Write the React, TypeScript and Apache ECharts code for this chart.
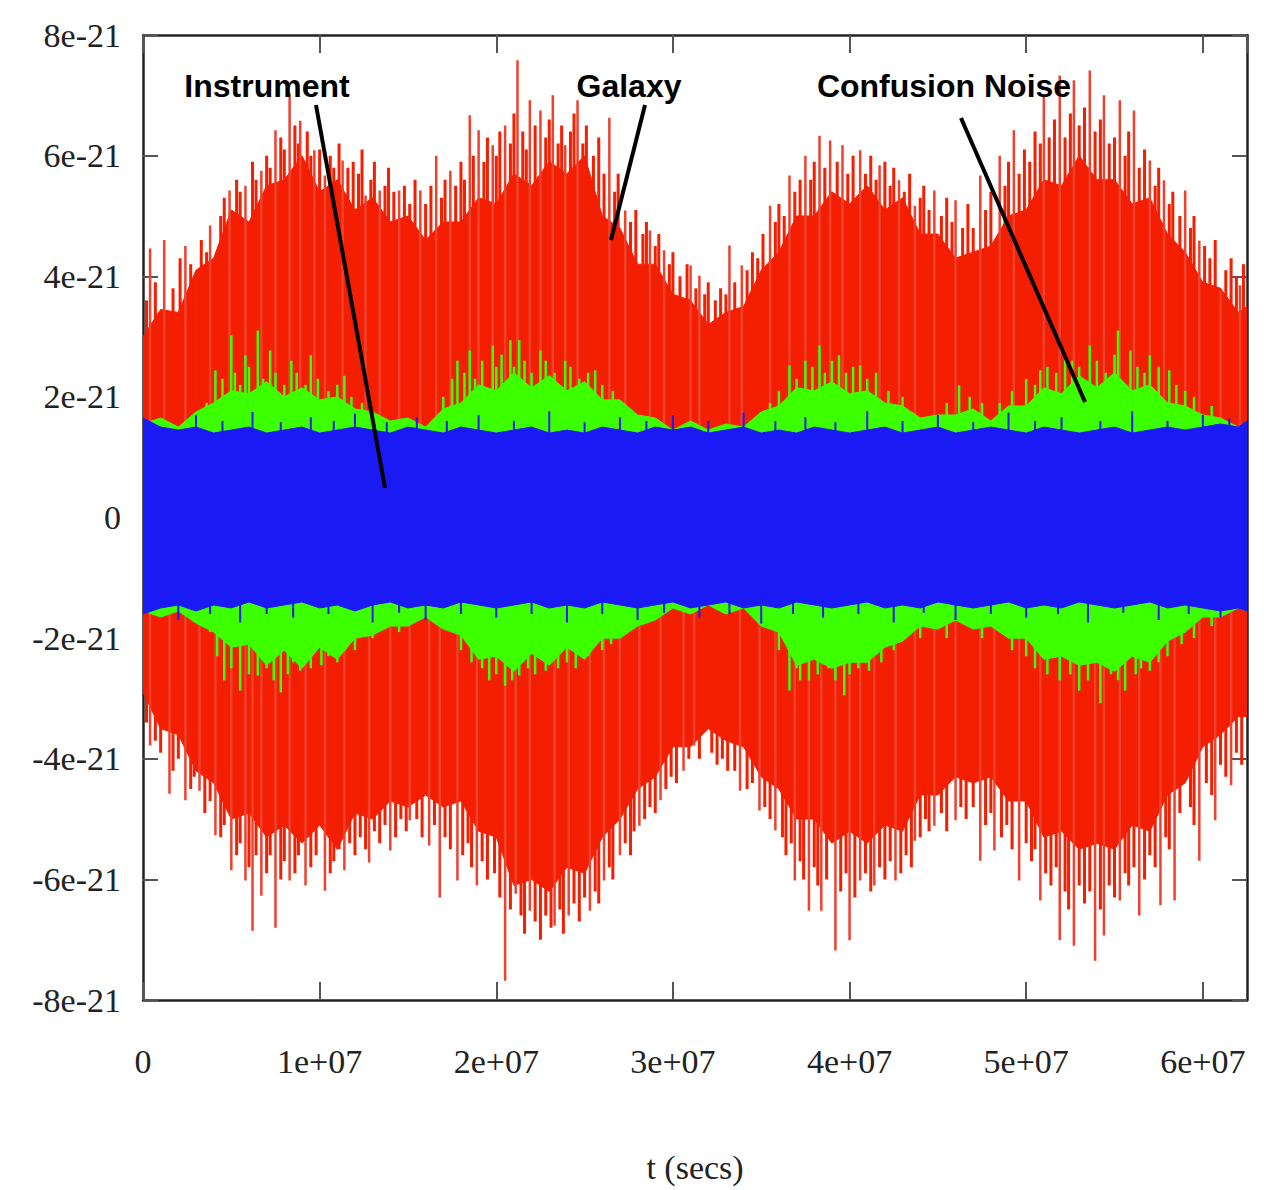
import React, { useEffect, useRef } from "react";
import * as echarts from "echarts";

// time grid: one sample every 1e6 s, last sample at the right edge (6.25e7 s)
const tGrid: number[] = Array.from({ length: 63 }, (_, i) => i * 1e6).concat([6.25e7]);

// amplitudes in units of 1e-21
const galaxyTop = [3.0, 3.45, 3.4, 4.1, 4.3, 5.1, 4.9, 5.5, 5.6, 6.0, 5.4, 5.6, 5.1, 5.3, 4.9, 5.0, 4.6, 4.9, 4.9, 5.3, 5.2, 5.7, 5.5, 5.9, 5.7, 6.0, 5.0, 4.8, 4.2, 4.2, 3.7, 3.6, 3.2, 3.4, 3.5, 4.1, 4.4, 5.0, 5.0, 5.4, 5.2, 5.5, 5.1, 5.3, 4.7, 4.7, 4.3, 4.4, 4.5, 5.0, 5.1, 5.6, 5.5, 6.0, 5.6, 5.6, 5.2, 5.3, 4.7, 4.4, 3.9, 3.8, 3.4, 3.5];
const galaxyBottom = [-2.9, -3.5, -3.6, -4.2, -4.4, -5.0, -4.9, -5.3, -5.1, -5.4, -5.1, -5.5, -4.9, -5.0, -4.7, -4.8, -4.6, -4.8, -4.7, -5.2, -5.3, -6.1, -6.0, -6.2, -5.8, -5.9, -5.3, -5.0, -4.5, -4.3, -3.8, -3.8, -3.5, -3.7, -3.8, -4.3, -4.5, -5.0, -5.0, -5.4, -5.2, -5.4, -5.1, -5.2, -4.6, -4.6, -4.3, -4.4, -4.3, -4.7, -4.7, -5.3, -5.2, -5.5, -5.4, -5.5, -5.1, -5.2, -4.6, -4.4, -3.8, -3.6, -3.3, -3.3];
// spikes: [t in units of 1e7 s, amplitude]
const galaxySpikesMajor = [
  [0.04, 4.46], [0.12, 4.6], [0.24, 4.5], [0.38, 4.84], [0.49, 5.42], [0.58, 5.5], [0.67, 5.75], [0.75, 6.42], [0.83, 7.03], [0.89, 6.58], [0.97, 6.09], [1.03, 5.67], [1.13, 5.92], [1.26, 5.34], [1.34, 5.42], [1.45, 5.42], [1.57, 5.42], [1.66, 6.0], [1.74, 5.75], [1.85, 6.67], [1.9, 6.42], [1.98, 6.17], [2.05, 6.5], [2.12, 7.58], [2.19, 6.92], [2.25, 6.75], [2.32, 7.0], [2.39, 6.17], [2.46, 6.92], [2.64, 6.63], [2.73, 5.09], [2.87, 4.76], [2.95, 4.43], [3.1, 4.18], [3.15, 4.01], [3.32, 4.51], [3.39, 4.18], [3.55, 5.17], [3.66, 5.67], [3.75, 6.0], [3.83, 6.33], [3.89, 6.25], [3.96, 6.17], [4.06, 6.09], [4.17, 5.84], [4.28, 5.59], [4.37, 5.17], [4.48, 5.42], [4.6, 5.26], [4.74, 5.67], [4.85, 6.0], [4.93, 6.42], [5.1, 7.0], [5.19, 7.33], [5.27, 7.25], [5.36, 7.41], [5.44, 7.0], [5.53, 6.92], [5.61, 6.75], [5.7, 5.92], [5.78, 5.59], [5.9, 5.42], [5.98, 4.59], [6.1, 3.76], [6.21, 3.85],
  [0.04, -3.78], [0.15, -4.58], [0.24, -4.69], [0.32, -4.53], [0.41, -5.27], [0.5, -5.85], [0.58, -6.02], [0.62, -6.85], [0.67, -6.27], [0.75, -6.8], [0.83, -6.02], [0.92, -6.1], [1.03, -6.19], [1.14, -5.85], [1.28, -5.72], [1.4, -5.52], [1.51, -5.02], [1.62, -5.44], [1.68, -6.3], [1.78, -6.02], [1.89, -6.1], [2.05, -7.68], [2.11, -6.24], [2.19, -6.52], [2.33, -6.77], [2.41, -6.6], [2.53, -6.52], [2.61, -6.02], [2.7, -5.6], [2.81, -5.11], [2.93, -4.69], [3.06, -4.2], [3.12, -3.78], [3.38, -4.53], [3.49, -4.86], [3.58, -5.19], [3.69, -6.02], [3.77, -6.52], [3.84, -6.52], [3.92, -7.18], [4.0, -7.01], [4.06, -6.02], [4.14, -6.1], [4.26, -6.02], [4.37, -5.36], [4.48, -5.11], [4.6, -5.02], [4.74, -5.69], [4.82, -5.52], [4.96, -6.02], [5.08, -6.35], [5.19, -7.01], [5.27, -7.1], [5.39, -7.35], [5.44, -6.93], [5.53, -6.35], [5.64, -6.6], [5.76, -6.43], [5.84, -6.35], [5.98, -5.69], [6.07, -5.02], [6.16, -4.44],
];
const galaxySpikesMinor = [
  [0.02, 3.6], [0.07, 3.9], [0.17, 3.8], [0.21, 4.3], [0.27, 4.2], [0.33, 4.6], [0.36, 4.4], [0.44, 5.0], [0.46, 5.3], [0.53, 5.6], [0.55, 5.4], [0.62, 5.9], [0.64, 5.6], [0.7, 6.0], [0.72, 5.8], [0.78, 6.3], [0.8, 6.1], [0.86, 6.5], [0.88, 6.2], [0.93, 6.4], [0.95, 6.0], [1.0, 6.1], [1.06, 6.0], [1.08, 5.8], [1.11, 6.2], [1.16, 5.8], [1.19, 5.9], [1.22, 5.7], [1.24, 6.1], [1.29, 5.6], [1.31, 5.9], [1.37, 5.5], [1.39, 5.8], [1.42, 5.4], [1.48, 5.5], [1.51, 5.2], [1.54, 5.6], [1.6, 5.2], [1.63, 5.5], [1.69, 5.3], [1.71, 5.6], [1.77, 5.5], [1.8, 5.9], [1.82, 5.6], [1.87, 6.0], [1.93, 5.9], [1.95, 6.3], [2.0, 6.0], [2.02, 6.4], [2.08, 6.2], [2.1, 6.7], [2.15, 6.4], [2.17, 6.1], [2.22, 6.5], [2.28, 6.3], [2.3, 6.6], [2.35, 6.2], [2.37, 6.5], [2.42, 6.4], [2.44, 6.7], [2.49, 6.2], [2.51, 6.5], [2.55, 6.0], [2.58, 6.3], [2.61, 5.7], [2.67, 5.4], [2.69, 5.7], [2.76, 4.9], [2.79, 5.1], [2.83, 4.7], [2.85, 4.9], [2.9, 4.5], [2.92, 4.7], [2.98, 4.2], [3.0, 4.4], [3.04, 4.0], [3.08, 4.2], [3.13, 3.8], [3.18, 3.7], [3.2, 3.9], [3.24, 3.6], [3.27, 3.8], [3.3, 3.7], [3.35, 3.9], [3.42, 4.1], [3.45, 4.4], [3.48, 4.3], [3.51, 4.7], [3.58, 4.9], [3.6, 5.2], [3.63, 5.0], [3.69, 5.4], [3.72, 5.6], [3.78, 5.6], [3.8, 5.9], [3.86, 5.8], [3.93, 5.9], [3.99, 5.7], [4.02, 6.0], [4.09, 5.7], [4.12, 6.0], [4.15, 5.6], [4.2, 5.9], [4.23, 5.5], [4.25, 5.8], [4.31, 5.4], [4.34, 5.7], [4.4, 5.3], [4.42, 5.5], [4.45, 5.1], [4.52, 5.0], [4.55, 5.3], [4.58, 4.9], [4.64, 4.8], [4.67, 5.2], [4.7, 4.8], [4.77, 5.1], [4.8, 5.4], [4.88, 5.5], [4.9, 5.9], [4.96, 5.7], [4.99, 6.1], [5.02, 5.9], [5.05, 6.4], [5.08, 6.2], [5.13, 6.3], [5.16, 6.6], [5.22, 6.3], [5.25, 6.7], [5.3, 6.5], [5.33, 6.8], [5.39, 6.4], [5.42, 6.6], [5.47, 6.2], [5.5, 6.3], [5.56, 6.0], [5.58, 6.4], [5.64, 5.8], [5.67, 6.1], [5.73, 5.5], [5.75, 5.8], [5.81, 5.2], [5.83, 5.4], [5.87, 5.0], [5.93, 4.8], [5.95, 5.0], [6.01, 4.5], [6.04, 4.3], [6.07, 4.6], [6.13, 4.1], [6.16, 4.3], [6.19, 4.0], [6.23, 4.2],
  [0.02, -3.4], [0.07, -3.7], [0.1, -3.9], [0.17, -4.2], [0.2, -4.0], [0.27, -4.5], [0.29, -4.3], [0.35, -4.9], [0.38, -4.7], [0.44, -5.3], [0.46, -5.1], [0.53, -5.6], [0.55, -5.4], [0.6, -5.8], [0.64, -5.6], [0.7, -5.9], [0.72, -5.6], [0.78, -6.0], [0.8, -5.7], [0.86, -5.9], [0.88, -5.6], [0.95, -5.8], [0.98, -5.6], [1.06, -5.9], [1.08, -5.7], [1.11, -5.5], [1.17, -5.4], [1.2, -5.6], [1.23, -5.3], [1.26, -5.5], [1.31, -5.2], [1.34, -5.4], [1.37, -5.1], [1.43, -5.3], [1.46, -5.0], [1.49, -5.2], [1.55, -5.0], [1.58, -5.3], [1.65, -5.1], [1.71, -5.3], [1.74, -5.5], [1.81, -5.6], [1.84, -5.4], [1.86, -5.8], [1.92, -5.7], [1.95, -6.0], [1.99, -5.9], [2.02, -6.3], [2.08, -6.5], [2.14, -6.6], [2.16, -6.9], [2.22, -6.7], [2.25, -7.0], [2.28, -6.6], [2.31, -6.8], [2.36, -6.5], [2.38, -6.9], [2.44, -6.4], [2.47, -6.7], [2.5, -6.3], [2.56, -6.2], [2.58, -6.4], [2.64, -5.8], [2.66, -6.0], [2.73, -5.4], [2.76, -5.6], [2.78, -5.2], [2.84, -5.0], [2.87, -4.8], [2.9, -4.9], [2.96, -4.5], [2.99, -4.3], [3.02, -4.4], [3.09, -4.0], [3.15, -4.0], [3.22, -3.9], [3.25, -4.1], [3.28, -4.0], [3.31, -4.2], [3.35, -4.2], [3.42, -4.5], [3.45, -4.4], [3.52, -4.8], [3.55, -5.0], [3.62, -5.3], [3.64, -5.6], [3.67, -5.4], [3.72, -5.7], [3.74, -6.0], [3.8, -5.8], [3.82, -6.1], [3.87, -6.0], [3.95, -6.2], [3.98, -5.9], [4.03, -6.3], [4.09, -5.9], [4.12, -6.2], [4.17, -5.8], [4.2, -6.0], [4.23, -5.7], [4.29, -5.9], [4.32, -5.6], [4.35, -5.8], [4.4, -5.3], [4.43, -5.0], [4.45, -5.2], [4.52, -4.9], [4.55, -5.2], [4.63, -4.8], [4.66, -5.0], [4.7, -4.8], [4.77, -5.1], [4.8, -4.9], [4.86, -5.3], [4.89, -5.1], [4.92, -5.5], [5.0, -5.4], [5.03, -5.7], [5.05, -5.5], [5.11, -5.9], [5.14, -6.1], [5.17, -5.8], [5.22, -6.2], [5.24, -6.5], [5.3, -6.1], [5.33, -6.4], [5.36, -6.2], [5.42, -6.5], [5.47, -6.1], [5.5, -6.3], [5.56, -5.9], [5.58, -6.1], [5.61, -5.8], [5.67, -6.0], [5.7, -5.6], [5.73, -5.8], [5.79, -5.3], [5.81, -5.5], [5.87, -4.9], [5.93, -4.8], [5.95, -5.1], [6.02, -4.4], [6.05, -4.6], [6.1, -4.1], [6.13, -4.3], [6.19, -3.9], [6.22, -4.1],
];

const confusionTop = [1.55, 1.65, 1.5, 1.75, 1.9, 2.1, 2.05, 2.25, 2.0, 2.15, 1.95, 2.0, 1.8, 1.75, 1.6, 1.65, 1.5, 1.8, 1.9, 2.2, 2.1, 2.4, 2.15, 2.35, 2.1, 2.25, 1.95, 1.95, 1.7, 1.65, 1.45, 1.6, 1.45, 1.55, 1.5, 1.75, 1.85, 2.15, 2.1, 2.25, 2.05, 2.1, 1.9, 1.85, 1.65, 1.7, 1.7, 1.8, 1.6, 1.85, 1.85, 2.15, 2.05, 2.35, 2.15, 2.4, 2.1, 2.2, 1.9, 1.85, 1.7, 1.65, 1.5, 1.55];
const confusionBottom = [-1.55, -1.65, -1.55, -1.75, -1.9, -2.15, -2.1, -2.45, -2.2, -2.5, -2.15, -2.35, -2.0, -1.95, -1.8, -1.8, -1.65, -1.85, -1.95, -2.35, -2.3, -2.55, -2.25, -2.45, -2.15, -2.35, -2.0, -2.0, -1.8, -1.7, -1.5, -1.6, -1.45, -1.6, -1.5, -1.8, -1.9, -2.45, -2.35, -2.5, -2.4, -2.4, -2.15, -2.05, -1.8, -1.85, -1.7, -1.85, -1.8, -2.0, -2.0, -2.35, -2.3, -2.45, -2.4, -2.55, -2.3, -2.4, -2.05, -1.9, -1.65, -1.65, -1.5, -1.55];
const confusionSpikes = [
  [0.41, 2.44], [0.5, 3.02], [0.58, 2.69], [0.65, 3.1], [0.72, 2.77], [0.84, 2.6], [0.95, 2.69], [1.14, 2.35], [1.78, 2.6], [1.85, 2.77], [1.98, 2.85], [2.08, 2.94], [2.13, 2.94], [2.25, 2.77], [2.39, 2.6], [2.56, 2.44], [3.66, 2.52], [3.75, 2.6], [3.83, 2.85], [3.94, 2.69], [4.06, 2.52], [4.62, 2.19], [5.08, 2.44], [5.22, 2.69], [5.36, 2.85], [5.52, 3.1], [5.59, 2.77], [5.7, 2.69], [5.81, 2.44],
  [0.36, 1.9], [0.45, 2.3], [0.52, 2.4], [0.55, 2.2], [0.6, 2.5], [0.68, 2.3], [0.75, 2.4], [0.8, 2.2], [0.87, 2.4], [0.92, 2.2], [0.99, 2.3], [1.05, 2.1], [1.1, 2.2], [1.18, 2.0], [1.24, 1.9], [1.7, 2.0], [1.75, 2.3], [1.82, 2.4], [1.88, 2.3], [1.92, 2.6], [2.0, 2.5], [2.03, 2.7], [2.1, 2.5], [2.16, 2.6], [2.2, 2.4], [2.28, 2.6], [2.33, 2.4], [2.42, 2.5], [2.47, 2.3], [2.52, 2.4], [2.6, 2.2], [2.66, 2.1], [2.72, 1.9], [3.55, 1.9], [3.6, 2.1], [3.7, 2.3], [3.79, 2.5], [3.86, 2.4], [3.9, 2.6], [3.98, 2.4], [4.02, 2.5], [4.1, 2.3], [4.15, 2.4], [4.22, 2.1], [4.3, 2.0], [4.55, 1.9], [4.68, 2.0], [4.75, 1.9], [4.85, 1.9], [4.92, 2.1], [5.0, 2.3], [5.05, 2.2], [5.12, 2.5], [5.17, 2.4], [5.26, 2.6], [5.3, 2.5], [5.4, 2.6], [5.45, 2.4], [5.5, 2.7], [5.63, 2.5], [5.67, 2.4], [5.75, 2.5], [5.85, 2.2], [5.9, 2.1], [5.95, 2.0], [6.05, 1.85],
  [0.46, -2.7], [0.55, -2.87], [0.65, -2.62], [0.78, -2.9], [0.89, -2.54], [1.01, -2.45], [1.96, -2.7], [2.05, -2.79], [2.13, -2.62], [2.28, -2.54], [3.66, -2.87], [3.77, -2.7], [3.97, -2.95], [4.11, -2.54], [5.19, -2.7], [5.3, -2.87], [5.42, -3.08], [5.56, -2.87], [5.7, -2.54],
  [0.38, -1.9], [0.42, -2.3], [0.5, -2.5], [0.6, -2.6], [0.7, -2.5], [0.74, -2.7], [0.82, -2.6], [0.85, -2.4], [0.95, -2.5], [1.05, -2.3], [1.1, -2.4], [1.2, -2.2], [1.3, -2.0], [1.45, -1.9], [1.8, -2.2], [1.86, -2.4], [1.92, -2.5], [2.0, -2.6], [2.09, -2.7], [2.18, -2.5], [2.22, -2.6], [2.35, -2.5], [2.4, -2.4], [2.45, -2.5], [2.52, -2.3], [2.6, -2.2], [2.65, -2.1], [3.6, -2.2], [3.7, -2.5], [3.72, -2.7], [3.82, -2.6], [3.88, -2.5], [3.92, -2.7], [4.0, -2.6], [4.05, -2.5], [4.18, -2.4], [4.25, -2.2], [4.4, -2.0], [4.55, -2.0], [4.75, -2.0], [4.92, -2.2], [5.0, -2.3], [5.05, -2.5], [5.12, -2.6], [5.25, -2.6], [5.35, -2.7], [5.48, -2.6], [5.52, -2.7], [5.62, -2.6], [5.65, -2.5], [5.75, -2.4], [5.8, -2.3], [5.88, -2.1], [5.95, -2.0], [6.05, -1.8],
];

const instrumentTop = [1.65, 1.5, 1.45, 1.5, 1.4, 1.45, 1.5, 1.4, 1.45, 1.5, 1.4, 1.45, 1.5, 1.45, 1.4, 1.5, 1.45, 1.4, 1.5, 1.45, 1.4, 1.45, 1.5, 1.4, 1.45, 1.4, 1.5, 1.45, 1.4, 1.5, 1.45, 1.5, 1.4, 1.45, 1.5, 1.4, 1.45, 1.4, 1.5, 1.45, 1.4, 1.45, 1.5, 1.4, 1.45, 1.5, 1.4, 1.45, 1.5, 1.45, 1.4, 1.5, 1.45, 1.4, 1.45, 1.5, 1.4, 1.45, 1.5, 1.45, 1.5, 1.55, 1.5, 1.6];
const instrumentBottom = [-1.6, -1.5, -1.45, -1.55, -1.45, -1.5, -1.4, -1.5, -1.45, -1.4, -1.5, -1.45, -1.55, -1.45, -1.4, -1.5, -1.45, -1.5, -1.4, -1.45, -1.5, -1.45, -1.4, -1.5, -1.45, -1.5, -1.4, -1.45, -1.5, -1.45, -1.4, -1.5, -1.45, -1.4, -1.5, -1.45, -1.5, -1.4, -1.45, -1.5, -1.45, -1.4, -1.5, -1.45, -1.5, -1.4, -1.45, -1.5, -1.45, -1.4, -1.5, -1.45, -1.5, -1.4, -1.45, -1.5, -1.45, -1.4, -1.5, -1.45, -1.5, -1.55, -1.5, -1.55];
const instrumentSpikes = [
  [0.3, 1.7], [0.45, 1.6], [0.62, 1.75], [0.78, 1.58], [0.95, 1.66], [1.08, 1.6], [1.2, 1.72], [1.38, 1.58], [1.55, 1.66], [1.72, 1.6], [1.9, 1.7], [2.1, 1.6], [2.3, 1.76], [2.5, 1.58], [2.7, 1.66], [2.85, 1.6], [3.0, 1.7], [3.2, 1.6], [3.4, 1.74], [3.58, 1.6], [3.75, 1.66], [3.92, 1.58], [4.1, 1.76], [4.3, 1.6], [4.5, 1.7], [4.7, 1.58], [4.9, 1.74], [5.05, 1.6], [5.2, 1.66], [5.42, 1.6], [5.6, 1.76], [5.8, 1.6], [6.0, 1.7], [6.15, 1.64],
  [0.2, -1.7], [0.38, -1.6], [0.55, -1.74], [0.7, -1.6], [0.85, -1.66], [1.05, -1.6], [1.3, -1.74], [1.45, -1.58], [1.6, -1.7], [1.8, -1.6], [2.0, -1.66], [2.2, -1.6], [2.4, -1.74], [2.6, -1.6], [2.8, -1.7], [2.95, -1.58], [3.15, -1.66], [3.32, -1.6], [3.5, -1.76], [3.68, -1.6], [3.85, -1.66], [4.05, -1.6], [4.25, -1.74], [4.42, -1.58], [4.6, -1.7], [4.8, -1.6], [5.0, -1.66], [5.18, -1.6], [5.35, -1.74], [5.55, -1.58], [5.75, -1.7], [5.92, -1.6], [6.1, -1.66],
];

const xTicks = [0, 1e7, 2e7, 3e7, 4e7, 5e7, 6e7];
const yTicks = [-8, -6, -4, -2, 0, 2, 4, 6, 8];

const RED = "#f41e00";
const RED_SPIKE = "#f0402e";
const GREEN = "#3cff00";
const BLUE = "#1a1af5";

// spikes drawn from the axis (0) to the spike amplitude
function spikeSeries(data: number[][], color: string, width: number) {
  return {
    type: "custom",
    clip: true,
    data: data.map((d) => [d[0] * 1e7, d[1]]),
    renderItem: (_p: any, api: any) => {
      const a = api.coord([api.value(0), 0]);
      const b = api.coord([api.value(0), api.value(1)]);
      return {
        type: "line",
        shape: { x1: a[0], y1: a[1], x2: b[0], y2: b[1] },
        style: { stroke: color, lineWidth: width },
      };
    },
  };
}

// filled band between the top and bottom envelopes, one polygon
function bandSeries(top: number[], bottom: number[], color: string) {
  return {
    type: "custom",
    clip: true,
    data: [[tGrid[0], 0]],
    renderItem: (_p: any, api: any) => {
      const up = top.map((v, i) => api.coord([tGrid[i], v]));
      const down = bottom.map((v, i) => api.coord([tGrid[i], v])).reverse();
      return {
        type: "polygon",
        shape: { points: up.concat(down) },
        style: { fill: color, stroke: color, lineWidth: 1 },
      };
    },
  };
}

export default function App() {
  const ref = useRef<HTMLDivElement>(null);
  useEffect(() => {
    if (!ref.current) return;
    const chart = echarts.init(ref.current, undefined, { renderer: "svg" });
    const tickLabelFont = { fontFamily: "Liberation Serif", fontSize: 34, color: "#222" };
    const annFont = "bold 32px 'Liberation Sans'";
    chart.setOption({
      animation: false,
      backgroundColor: "#ffffff",
      grid: { left: 143, top: 35, width: 1104, height: 965, show: false },
      xAxis: [
        {
          type: "value",
          min: 0,
          max: 6.25e7,
          interval: 1e7,
          position: "bottom",
          splitLine: { show: false },
          axisLine: { show: true, onZero: false, lineStyle: { color: "#222", width: 2.5 } },
          axisTick: { show: true, inside: true, length: 18, lineStyle: { color: "#555", width: 2 } },
          axisLabel: {
            ...tickLabelFont,
            margin: 44,
            showMaxLabel: false,
            formatter: (v: number) => (xTicks.includes(v) ? (v === 0 ? "0" : `${v / 1e7}e+07`) : ""),
          },
          name: "t (secs)",
          nameLocation: "middle",
          nameGap: 150,
          nameTextStyle: { fontFamily: "Liberation Serif", fontSize: 34, color: "#222" },
        },
        {
          type: "value",
          min: 0,
          max: 6.25e7,
          interval: 1e7,
          position: "top",
          splitLine: { show: false },
          axisLine: { show: true, onZero: false, lineStyle: { color: "#222", width: 2.5 } },
          axisTick: { show: true, inside: true, length: 18, lineStyle: { color: "#555", width: 2 } },
          axisLabel: { show: false },
        },
      ],
      yAxis: [
        {
          type: "value",
          min: -8,
          max: 8,
          interval: 2,
          position: "left",
          splitLine: { show: false },
          axisLine: { show: true, onZero: false, lineStyle: { color: "#222", width: 2.5 } },
          axisTick: { show: true, inside: true, length: 15, lineStyle: { color: "#555", width: 2 } },
          axisLabel: {
            ...tickLabelFont,
            margin: 22,
            formatter: (v: number) => (yTicks.includes(v) ? (v === 0 ? "0" : `${v}e-21`) : ""),
          },
        },
        {
          type: "value",
          min: -8,
          max: 8,
          interval: 2,
          position: "right",
          splitLine: { show: false },
          axisLine: { show: true, onZero: false, lineStyle: { color: "#222", width: 2.5 } },
          axisTick: { show: true, inside: true, length: 15, lineStyle: { color: "#555", width: 2 } },
          axisLabel: { show: false },
        },
      ],
      series: [
        bandSeries(galaxyTop, galaxyBottom, RED),
        spikeSeries(galaxySpikesMinor, RED, 3),
        spikeSeries(galaxySpikesMajor, RED_SPIKE, 2.5),
        bandSeries(confusionTop, confusionBottom, GREEN),
        spikeSeries(confusionSpikes, GREEN, 2.5),
        bandSeries(instrumentTop, instrumentBottom, BLUE),
        spikeSeries(instrumentSpikes, BLUE, 2),
      ],
      graphic: [
        { type: "text", x: 267, y: 86, style: { text: "Instrument", font: annFont, fill: "#000", textAlign: "center", textVerticalAlign: "middle" }, z: 100 },
        { type: "text", x: 629, y: 86, style: { text: "Galaxy", font: annFont, fill: "#000", textAlign: "center", textVerticalAlign: "middle" }, z: 100 },
        { type: "text", x: 944, y: 86, style: { text: "Confusion Noise", font: annFont, fill: "#000", textAlign: "center", textVerticalAlign: "middle" }, z: 100 },
        { type: "line", shape: { x1: 316, y1: 105, x2: 385, y2: 488 }, style: { stroke: "#000", lineWidth: 4 }, z: 100 },
        { type: "line", shape: { x1: 645, y1: 105, x2: 611, y2: 240 }, style: { stroke: "#000", lineWidth: 4 }, z: 100 },
        { type: "line", shape: { x1: 961, y1: 118, x2: 1085, y2: 402 }, style: { stroke: "#000", lineWidth: 4 }, z: 100 },
      ],
    });
    return () => chart.dispose();
  }, []);
  return <div ref={ref} style={{ position: "absolute", left: 0, top: 0, width: 1264, height: 1190 }} />;
}
